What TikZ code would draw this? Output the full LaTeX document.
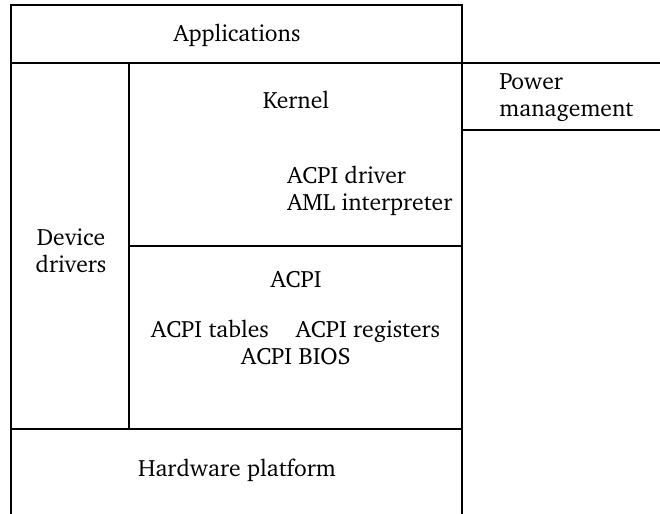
\documentclass[tikz,border=0pt]{standalone}
\usepackage[T1]{fontenc}
\usepackage{charter}
\usepackage{tikz}

\begin{document}
\begin{tikzpicture}[x=0.5pt, y=-0.5pt,
  lbl/.style={inner sep=0pt, font=\fontsize{11.8}{13.5}\selectfont, align=center},
  thin/.style={line width=0.65pt},
  thick/.style={line width=1pt}]

\useasboundingbox (0,0) rectangle (660,514);

% Outer frame (open at the bottom)
\draw[thin] (11,514) -- (11,5) -- (462,5) -- (462,514);
\draw[thin] (11,63) -- (660,63);
\draw[thin] (462,130) -- (660,130);

% Inner divisions
\draw[thick] (129,63) -- (129,429);
\draw[thick] (129,246) -- (462,246);
\draw[thick] (11,429) -- (462,429);

% Layer labels
\node[lbl] (apps) at (237,35) {Applications};
\node[lbl] (kernel) at (296,100) {Kernel};
\node[lbl, anchor=west, align=left] (power) at (499,97) {Power\\management};
\node[lbl, anchor=west, align=left] (driver) at (287,191) {ACPI driver\\AML interpreter};
\node[lbl] (devdrv) at (71,251) {Device\\drivers};
\node[lbl] (acpi) at (296,280) {ACPI};
\node[lbl, anchor=base] (tables) at (210,337) {ACPI tables};
\node[lbl, anchor=base] (regs) at (368,337) {ACPI registers};
\node[lbl, anchor=base] (bios) at (296,364) {ACPI BIOS};
\node[lbl] (hw) at (237,470) {Hardware platform};

\end{tikzpicture}
\end{document}
